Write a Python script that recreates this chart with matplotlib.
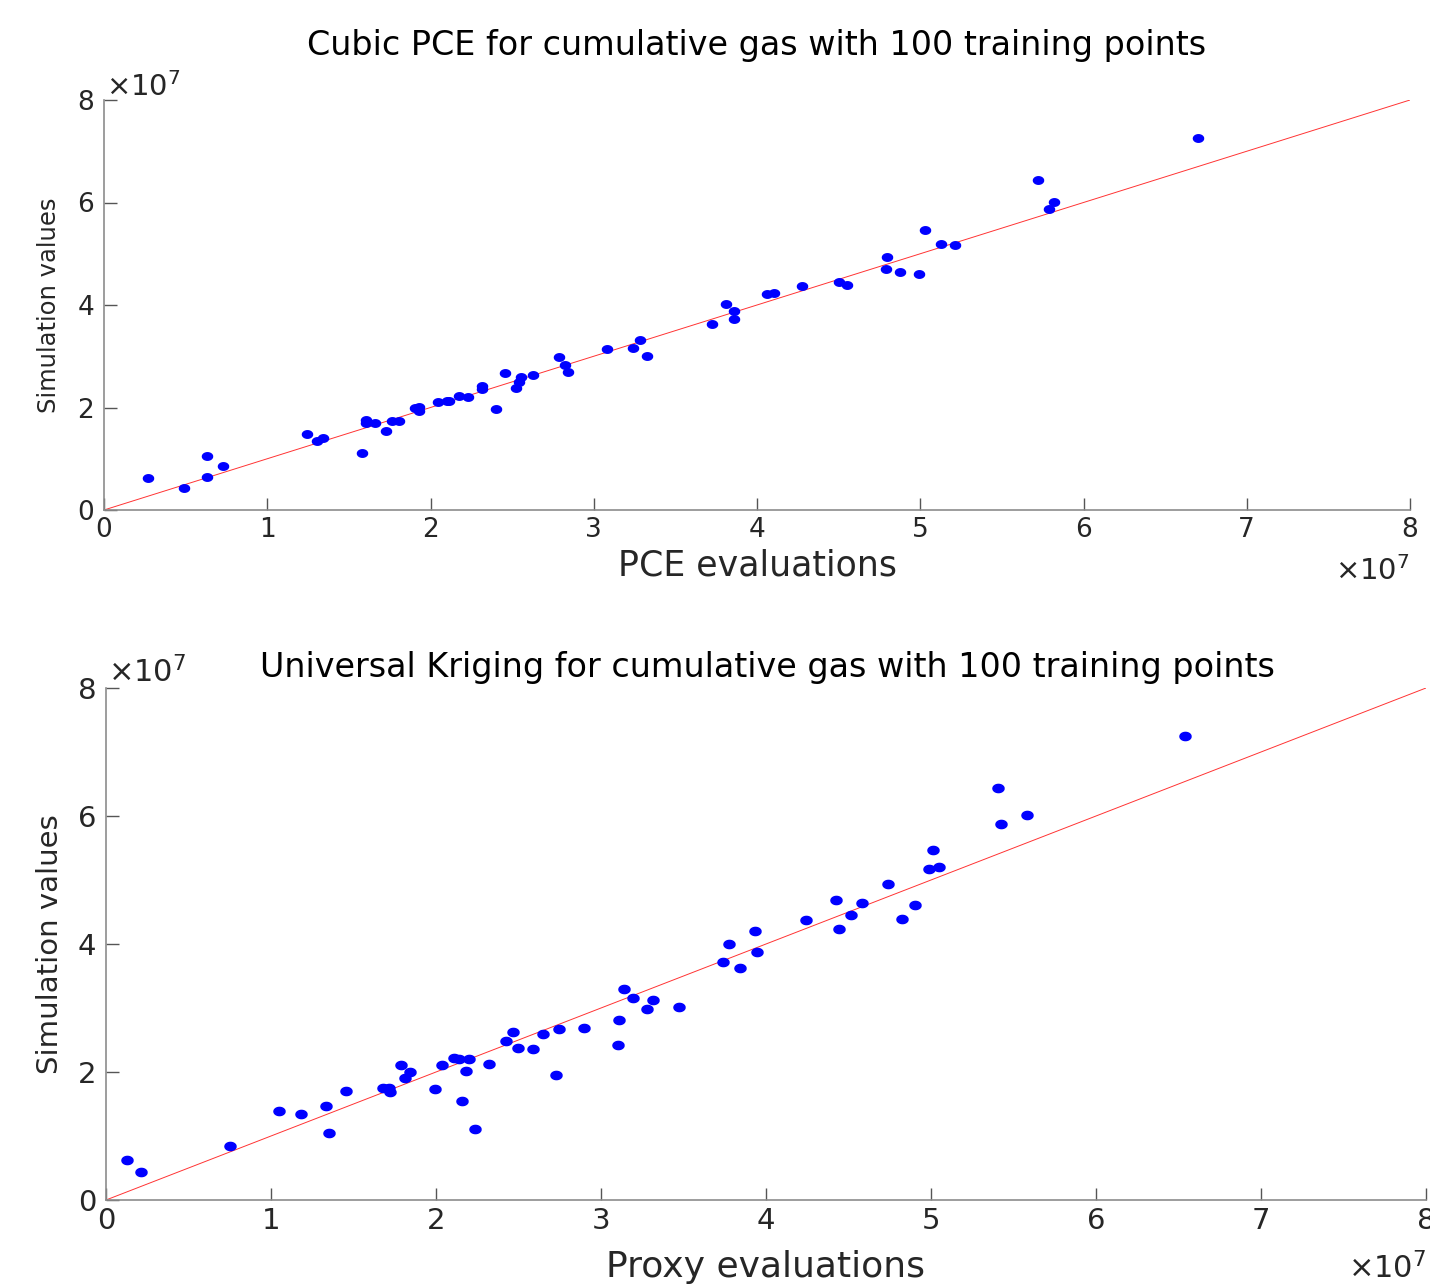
import numpy as np
import matplotlib.pyplot as plt
from matplotlib.path import Path
from matplotlib.ticker import FuncFormatter

plt.rcParams['font.family'] = 'DejaVu Sans'
plt.rcParams['mathtext.fontset'] = 'dejavusans'

# values, in units of 1e7
pce_eval = [0.271, 0.490, 0.633, 0.629, 0.727, 1.243, 1.307, 1.340, 1.582, 1.605,
            1.605, 1.658, 1.727, 1.764, 1.809, 1.903, 1.928, 1.928, 2.048, 2.099,
            2.115, 2.173, 2.230, 2.314, 2.314, 2.399, 2.456, 2.526, 2.540, 2.554,
            2.630, 2.787, 2.824, 2.840, 3.081, 3.239, 3.285, 3.324, 3.727, 3.809,
            3.858, 3.862, 4.061, 4.106, 4.273, 4.502, 4.553, 4.788, 4.798, 4.878,
            4.992, 5.029, 5.127, 5.213, 5.723, 5.789, 5.817, 6.701]
pce_sim = [0.619, 0.435, 1.054, 0.644, 0.853, 1.483, 1.352, 1.399, 1.106, 1.756,
           1.703, 1.703, 1.547, 1.737, 1.737, 1.990, 2.016, 1.926, 2.113, 2.133,
           2.133, 2.218, 2.211, 2.420, 2.361, 1.971, 2.673, 2.380, 2.492, 2.601,
           2.634, 2.985, 2.823, 2.693, 3.141, 3.161, 3.311, 3.011, 3.635, 4.014,
           3.883, 3.733, 4.209, 4.234, 4.371, 4.455, 4.384, 4.697, 4.943, 4.644,
           4.605, 5.469, 5.196, 5.177, 6.439, 5.867, 6.004, 7.259]

krig_eval = [0.129, 0.214, 0.753, 1.047, 1.184, 1.332, 1.350, 1.455, 1.679, 1.713,
             1.723, 1.788, 1.810, 1.842, 1.994, 2.036, 2.111, 2.142, 2.182, 2.156,
             2.203, 2.236, 2.321, 2.424, 2.468, 2.497, 2.586, 2.647, 2.727, 2.747,
             2.895, 3.101, 3.109, 3.141, 3.196, 3.277, 3.313, 3.475, 3.741, 3.778,
             3.841, 3.935, 3.947, 4.241, 4.424, 4.442, 4.515, 4.582, 4.741, 4.822,
             4.905, 4.986, 5.014, 5.047, 5.406, 5.426, 5.580, 6.539]
krig_sim = [0.620, 0.433, 0.839, 1.395, 1.348, 1.473, 1.047, 1.698, 1.755, 1.745,
            1.692, 2.114, 1.914, 2.000, 1.734, 2.102, 2.219, 2.198, 2.008, 1.547,
            2.206, 1.109, 2.125, 2.492, 2.630, 2.380, 2.355, 2.594, 1.958, 2.667,
            2.688, 2.422, 2.817, 3.302, 3.152, 2.989, 3.130, 3.016, 3.719, 4.005,
            3.628, 4.208, 3.880, 4.380, 4.688, 4.230, 4.458, 4.636, 4.933, 4.391,
            4.609, 5.177, 5.469, 5.198, 6.438, 5.870, 6.011, 7.245]

ref_line = [0, 8]
scale = 1e7

W, H = 1430, 1284
fig = plt.figure(figsize=(W / 100, H / 100), dpi=100)


def fx(x):
    return x / W


def fy(y):
    return 1 - y / H


# slightly wide dot, like the stretched MATLAB markers
t = np.linspace(0, 2 * np.pi, 41)
dot = Path(np.column_stack([1.35 * np.cos(t), np.sin(t)]))

fmt = FuncFormatter(lambda v, p: '%g' % (v / scale))
txt = '#262626'


def style(ax, fs):
    ax.set_xlim(0, 8 * scale)
    ax.set_ylim(0, 8 * scale)
    ax.set_xticks(np.arange(0, 9) * scale)
    ax.set_yticks(np.arange(0, 9, 2) * scale)
    ax.xaxis.set_major_formatter(fmt)
    ax.yaxis.set_major_formatter(fmt)
    for s in ['top', 'right']:
        ax.spines[s].set_visible(False)
    for s in ['left', 'bottom']:
        ax.spines[s].set_color('#8c8c8c')
        ax.spines[s].set_linewidth(1.2)
    ax.tick_params(direction='in', length=9, width=1, color='#555555',
                   labelsize=fs, labelcolor=txt)
    ax.tick_params(axis='x', pad=5)
    ax.tick_params(axis='y', pad=7)


ax1 = fig.add_axes([fx(104), fy(510), 1306 / W, 410 / H])
ax1.plot(np.array(ref_line) * scale, np.array(ref_line) * scale, color='red',
         linewidth=0.7, alpha=0.8)
ax1.plot(np.array(pce_eval) * scale, np.array(pce_sim) * scale, linestyle='none',
         marker=dot, markersize=7.3, color='blue', clip_on=False)
style(ax1, 19)

ax2 = fig.add_axes([fx(106), fy(1200), 1320 / W, 512 / H])
ax2.plot(np.array(ref_line) * scale, np.array(ref_line) * scale, color='red',
         linewidth=0.7, alpha=0.8)
ax2.plot(np.array(krig_eval) * scale, np.array(krig_sim) * scale, linestyle='none',
         marker=dot, markersize=8, color='blue', clip_on=False)
style(ax2, 21)

# titles and axis labels
fig.text(fx(757), fy(55), 'Cubic PCE for cumulative gas with 100 training points',
         ha='center', va='baseline', fontsize=24, color='black')
fig.text(fx(767), fy(677), 'Universal Kriging for cumulative gas with 100 training points',
         ha='center', va='baseline', fontsize=24, color='black')
fig.text(fx(757), fy(575), 'PCE evaluations', ha='center', va='baseline',
         fontsize=25, color=txt)
fig.text(fx(766), fy(1277), 'Proxy evaluations', ha='center', va='baseline',
         fontsize=26, color=txt)
fig.text(fx(49), fy(305), 'Simulation values', rotation=90, ha='center',
         va='center', fontsize=17.5, color=txt)
fig.text(fx(50), fy(944), 'Simulation values', rotation=90, ha='center',
         va='center', fontsize=21, color=txt)

# exponent labels
expo = r'$\times\mathregular{10^{7}}$'
fig.text(fx(106), fy(96), expo, ha='left', va='baseline', fontsize=21, color=txt)
fig.text(fx(1410), fy(580), expo, ha='right', va='baseline', fontsize=21, color=txt)
fig.text(fx(108), fy(682), expo, ha='left', va='baseline', fontsize=22, color=txt)
fig.text(fx(1426), fy(1278), expo, ha='right', va='baseline', fontsize=22, color=txt)

fig.savefig('out.png', dpi=100)
